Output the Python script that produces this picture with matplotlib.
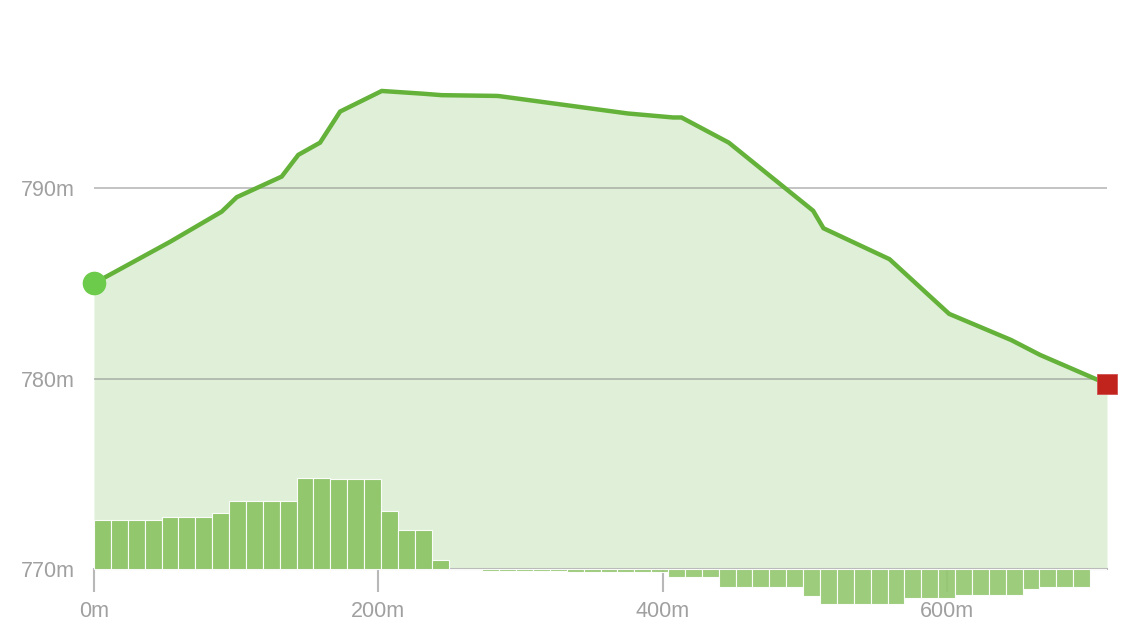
import numpy as np
import matplotlib.pyplot as plt

# perfil de elevacion (distancia en m, altura en m)
dist = [0, 53.5, 89.8, 100.4, 132.0, 143.7, 159.0, 173.1, 202.4, 230.7, 244.6,
        283.3, 285.0, 375.4, 407.3, 413.2, 446.5, 505.8, 513.1, 559.5, 601.5,
        645.1, 665.4, 712.5]
elev = [785.0, 787.18, 788.76, 789.52, 790.60, 791.74, 792.38, 794.01, 795.09,
        794.95, 794.87, 794.83, 794.82, 793.91, 793.70, 793.70, 792.38, 788.81,
        787.89, 786.27, 783.40, 782.03, 781.25, 779.73]

# pendiente por tramo (%), 60 tramos iguales
grade = [4.1, 4.1, 4.1, 4.1, 4.4, 4.4, 4.4, 4.7, 5.7, 5.7, 5.7, 5.7,
         7.6, 7.6, 7.5, 7.5, 7.5, 4.9, 3.25, 3.25, 0.8, 0.0, -0.08,
         -0.12, -0.12, -0.12, -0.12, -0.12, -0.2, -0.2, -0.2, -0.2, -0.2, -0.2,
         -0.6, -0.6, -0.6, -1.5, -1.5, -1.5, -1.5, -1.5, -2.25,
         -2.9, -2.9, -2.9, -2.9, -2.9, -2.35, -2.35, -2.35,
         -2.15, -2.15, -2.15, -2.15, -1.6, -1.5, -1.5, -1.5, 0.0]

yticks = [770, 780, 790]
xticks = [0, 200, 400, 600]

plt.rcParams['font.family'] = ['Liberation Sans', 'DejaVu Sans']

fig = plt.figure(figsize=(11.46, 6.4), dpi=100)
ax = fig.add_axes([94/1146, 0, (1107-94)/1146, 1])
ymin, ymax = 766.3, 799.86
ax.set_xlim(0, dist[-1])
ax.set_ylim(ymin, ymax)

# barras de pendiente en eje secundario (1% = 12px aprox.)
m_per_pct = 12/19.07
ax2 = ax.twinx()
ax2.set_ylim((ymin-770)/m_per_pct, (ymax-770)/m_per_pct)
n = len(grade)
step = dist[-1]/n
left = np.arange(n)*step
cols = ['#8cc466' if g >= 0 else '#95c872' for g in grade]
ax2.bar(left, grade, width=step, align='edge', color=cols,
        edgecolor=(1, 1, 1, 0.18), linewidth=0.8, alpha=0.93, zorder=2)
ax2.axis('off')

ax.fill_between(dist, elev, 770, color='#e0f0d8', lw=0, zorder=0)
ax.set_zorder(ax2.get_zorder()-1)
ax.patch.set_visible(False)

# lineas de rejilla
for y in [780, 790]:
    ax.axhline(y, color='#888888', alpha=0.5, lw=1.4, zorder=1)

ax2.plot(np.array(dist), (np.array(elev)-770)/m_per_pct, color='#64b23a', lw=3.2,
         zorder=4, solid_joinstyle='miter')
ax2.plot(dist[0], (elev[0]-770)/m_per_pct, 'o', ms=16, color='#6ccb4a',
         zorder=5, clip_on=False)
ax2.plot(dist[-1], (elev[-1]-770)/m_per_pct, 's', ms=14, color='#c0241c',
         mec='#d05050', mew=0.6, zorder=5, clip_on=False)

for s in ['left', 'right', 'top']:
    ax.spines[s].set_visible(False)
ax.spines['bottom'].set_position(('data', 770))
ax.spines['bottom'].set_color('#b8b8b8')
ax.spines['bottom'].set_linewidth(1.5)

ax.set_xticks(xticks)
ax.set_xticklabels([f'{x}m' for x in xticks])
ax.set_yticks(yticks)
ax.set_yticklabels([f'{y}m' for y in yticks])
ax.tick_params(axis='x', length=16.5, width=1.5, color='#b8b8b8', pad=6,
               labelsize=15.5, labelcolor='#a0a0a0')
ax.tick_params(axis='y', length=0, pad=14, labelsize=15.5, labelcolor='#a0a0a0')

fig.savefig('out.png', dpi=100)
